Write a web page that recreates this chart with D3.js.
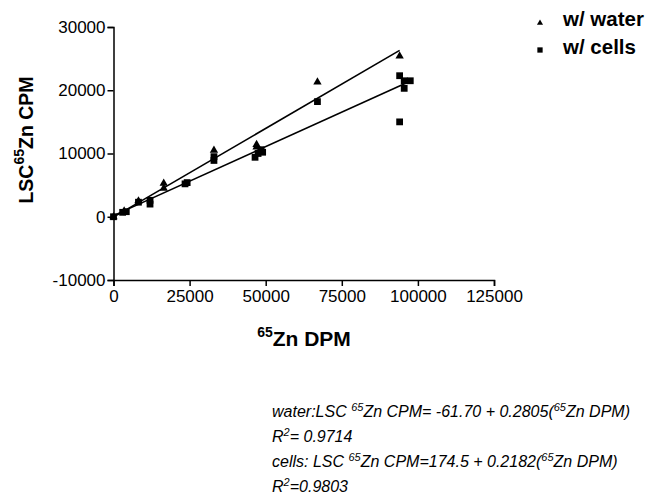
<!DOCTYPE html>
<html><head><meta charset="utf-8">
<script src="https://cdn.jsdelivr.net/npm/d3@7"></script>
<style>
body{margin:0;background:#fff;}
svg{font-family:"Liberation Sans",Arial,sans-serif;}
</style></head>
<body><svg id="c" width="661" height="502"></svg>
<script>
const xTicks = [0, 25000, 50000, 75000, 100000, 125000];
const yTicks = [-10000, 0, 10000, 20000, 30000];
const waterX = [0, 3500, 8200, 16500, 16500, 33000, 47000, 47000, 67000, 94000];
const waterY = [0, 900, 2500, 4500, 5300, 10500, 11000, 11400, 21300, 25400];
const cellsX = [0, 3000, 4200, 8200, 12000, 12000, 23500, 24200, 33000, 33000, 46500, 47500, 48500, 49000, 67000, 94000, 95500, 97500, 95500, 94000];
const cellsY = [0, 700, 800, 2300, 2000, 2600, 5200, 5400, 8900, 9500, 9400, 10000, 10600, 10200, 18200, 22300, 21500, 21500, 20300, 15000];
const fits = [
  {name:"water", a:-61.70, b:0.2805, x0:0, x1:94000},
  {name:"cells", a:174.5, b:0.2182, x0:0, x1:96500}
];
const legendLabels = ["w/ water", "w/ cells"];

const svg = d3.select("#c");
const x = d3.scaleLinear().domain([0,125000]).range([113.5,494]);
const y = d3.scaleLinear().domain([-10000,30000]).range([280,27]);
const fmt = d => String(d);

const xa = svg.append("g").attr("transform","translate(0,280)")
  .call(d3.axisBottom(x).tickValues(xTicks).tickFormat(fmt).tickSize(6).tickPadding(4));
const ya = svg.append("g").attr("transform","translate(113.5,0)")
  .call(d3.axisLeft(y).tickValues(yTicks).tickFormat(fmt).tickSize(6).tickPadding(2));
[xa,ya].forEach(g=>{
  g.select(".domain").attr("stroke","#000").attr("stroke-width",1.5);
  g.selectAll(".tick line").attr("stroke","#000").attr("stroke-width",1.5);
  g.selectAll(".tick text").attr("font-size",17).attr("fill","#000").attr("font-family","Liberation Sans, Arial, sans-serif");
});

// fit lines
svg.selectAll("line.fit").data(fits).enter().append("line")
  .attr("x1",d=>x(d.x0)).attr("y1",d=>y(d.a+d.b*d.x0))
  .attr("x2",d=>x(d.x1)).attr("y2",d=>y(d.a+d.b*d.x1))
  .attr("stroke","#000").attr("stroke-width",1.6);

const tri = d3.symbol().type(d3.symbolTriangle).size(30);
const sq = d3.symbol().type(d3.symbolSquare).size(46);
svg.selectAll("path.w").data(waterX.map((v,i)=>[v,waterY[i]])).enter().append("path")
  .attr("d",tri).attr("transform",d=>`translate(${x(d[0])},${y(d[1])})`).attr("fill","#000");
svg.selectAll("path.c").data(cellsX.map((v,i)=>[v,cellsY[i]])).enter().append("path")
  .attr("d",sq).attr("transform",d=>`translate(${x(d[0])},${y(d[1])})`).attr("fill","#000");

// legend
const lg = svg.append("g");
lg.append("path").attr("d",d3.symbol().type(d3.symbolTriangle).size(16)).attr("transform","translate(540,23)");
lg.append("path").attr("d",d3.symbol().type(d3.symbolSquare).size(28)).attr("transform","translate(540,50)");
lg.selectAll("text").data(legendLabels).enter().append("text")
  .attr("x",563).attr("y",(d,i)=>26+i*28).attr("font-size",20.5).attr("font-weight","bold").text(d=>d);

// axis titles
const xt = svg.append("text").attr("x",304).attr("y",346).attr("text-anchor","middle")
  .attr("font-size",21).attr("font-weight","bold");
xt.append("tspan").attr("font-size",14).attr("dy",-9).text("65");
xt.append("tspan").attr("dy",9).text("Zn DPM");

const yt = svg.append("text").attr("transform","translate(33,140) rotate(-90)").attr("text-anchor","middle")
  .attr("font-size",19.5).attr("font-weight","bold");
yt.append("tspan").text("LSC");
yt.append("tspan").attr("font-size",14).attr("dy",-9).text("65");
yt.append("tspan").attr("dy",9).text("Zn CPM");

// equations
const eq = svg.append("g").attr("font-size",16).attr("font-style","italic");
function line(yy, parts){
  const t = eq.append("text").attr("x",272).attr("y",yy);
  parts.forEach(p=>{
    if(p[1]) t.append("tspan").attr("font-size",11).attr("dy",-6).text(p[0]);
    else t.append("tspan").attr("dy", p[2]||0).text(p[0]);
  });
}
line(417, [["water:LSC "],["65",1],["Zn CPM= -61.70 + 0.2805(",0,6],["65",1],["Zn DPM)",0,6]]);
line(442, [["R"],["2",1],["= 0.9714",0,6]]);
line(467, [["cells: LSC "],["65",1],["Zn CPM=174.5 + 0.2182(",0,6],["65",1],["Zn DPM)",0,6]]);
line(492, [["R"],["2",1],["=0.9803",0,6]]);
</script></body></html>
